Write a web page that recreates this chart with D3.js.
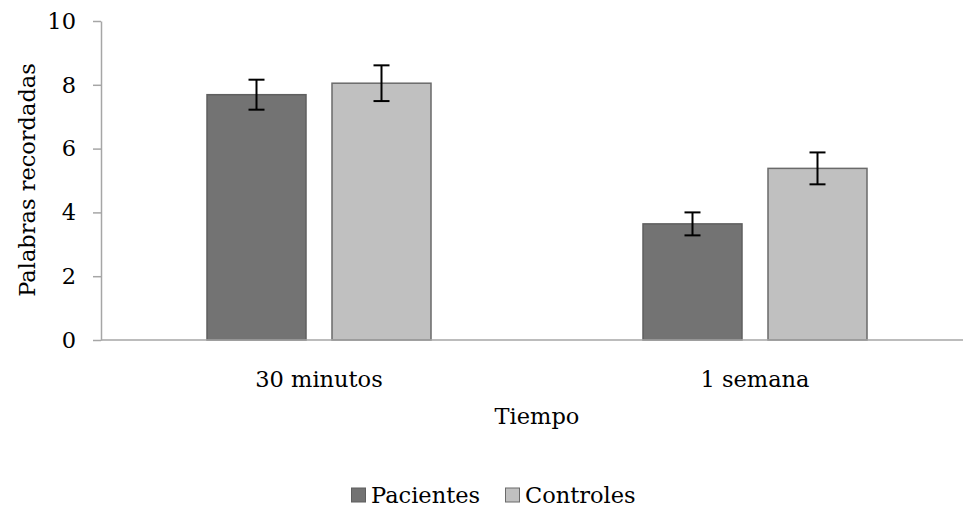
<!DOCTYPE html>
<html>
<head>
<meta charset="utf-8">
<script src="https://cdn.jsdelivr.net/npm/d3@7"></script>
<style>
  body { margin: 0; background: #fff; }
  text { font-family: "DejaVu Serif", serif; fill: #000; }
</style>
</head>
<body>
<div class="chart"></div>
<script>
// data
var categories = ["30 minutos", "1 semana"];
var series = ["Pacientes", "Controles"];
var pacientes = [7.69, 3.64];
var controles = [8.05, 5.38];
var pacientesErr = [0.47, 0.36];
var controlesErr = [0.56, 0.5];
var yTicks = [0, 2, 4, 6, 8, 10];

var colors = { Pacientes: "#737373", Controles: "#c0c0c0" };
var strokes = { Pacientes: "#5f5f5f", Controles: "#6a6a6a" };

var svgWidth = 963;
var svgHeight = 512;

var svg = d3.select(".chart")
  .append("svg")
  .attr("width", svgWidth)
  .attr("height", svgHeight);

var x0 = d3.scaleBand()
  .domain(categories)
  .range([101, 973])
  .paddingInner(0)
  .paddingOuter(0);

var x1 = d3.scaleBand()
  .domain(series)
  .range([-112, 112])
  .paddingInner(0.208)
  .paddingOuter(0);

var y = d3.scaleLinear()
  .domain([0, 10])
  .range([340, 21]);

var rows = [];
categories.forEach(function(c, i) {
  rows.push({ cat: c, s: "Pacientes", v: pacientes[i], e: pacientesErr[i] });
  rows.push({ cat: c, s: "Controles", v: controles[i], e: controlesErr[i] });
});

// bars
svg.selectAll("rect.bar")
  .data(rows)
  .enter()
  .append("rect")
  .attr("class", "bar")
  .attr("x", d => x0(d.cat) + x0.bandwidth() / 2 + x1(d.s))
  .attr("y", d => y(d.v))
  .attr("width", x1.bandwidth())
  .attr("height", d => y(0) - y(d.v))
  .attr("fill", d => colors[d.s])
  .attr("stroke", d => strokes[d.s])
  .attr("stroke-width", 1.5);

// y axis
var leftAxis = d3.axisLeft(y)
  .tickValues(yTicks)
  .tickSizeInner(8)
  .tickSizeOuter(0)
  .tickPadding(17);

var yg = svg.append("g")
  .attr("transform", "translate(101,0)")
  .call(leftAxis);
yg.select(".domain").attr("stroke", "#a6a6a6").attr("stroke-width", 1.5);
yg.selectAll(".tick line").attr("stroke", "#a6a6a6").attr("stroke-width", 1.5);
yg.selectAll(".tick text")
  .attr("font-family", "DejaVu Serif")
  .attr("font-size", 22.5)
  .attr("fill", "#000");

// x axis line + labels
svg.append("line")
  .attr("x1", 101).attr("x2", svgWidth)
  .attr("y1", y(0)).attr("y2", y(0))
  .attr("stroke", "#a6a6a6")
  .attr("stroke-width", 1.5);

svg.selectAll("text.cat")
  .data(categories)
  .enter()
  .append("text")
  .attr("class", "cat")
  .attr("x", d => x0(d) + x0.bandwidth() / 2)
  .attr("y", 387)
  .attr("text-anchor", "middle")
  .attr("font-size", 22.5)
  .text(d => d);

// error bars
var eb = svg.selectAll("g.err")
  .data(rows)
  .enter()
  .append("g")
  .attr("class", "err")
  .attr("transform", d => `translate(${x0(d.cat) + x0.bandwidth() / 2 + x1(d.s) + x1.bandwidth() / 2},0)`);

eb.append("line")
  .attr("x1", 0).attr("x2", 0)
  .attr("y1", d => y(d.v + d.e))
  .attr("y2", d => y(d.v - d.e))
  .attr("stroke", "#000").attr("stroke-width", 2);
eb.append("line")
  .attr("x1", -8).attr("x2", 8)
  .attr("y1", d => y(d.v + d.e)).attr("y2", d => y(d.v + d.e))
  .attr("stroke", "#000").attr("stroke-width", 2);
eb.append("line")
  .attr("x1", -8).attr("x2", 8)
  .attr("y1", d => y(d.v - d.e)).attr("y2", d => y(d.v - d.e))
  .attr("stroke", "#000").attr("stroke-width", 2);

// axis titles
svg.append("text")
  .attr("transform", "rotate(-90)")
  .attr("x", -180)
  .attr("y", 35)
  .attr("text-anchor", "middle")
  .attr("font-size", 22.5)
  .text("Palabras recordadas");

svg.append("text")
  .attr("x", 537)
  .attr("y", 424)
  .attr("text-anchor", "middle")
  .attr("font-size", 22.5)
  .text("Tiempo");

// legend
var legendX = [351, 505];
var legend = svg.selectAll("g.legend")
  .data(series)
  .enter()
  .append("g")
  .attr("class", "legend")
  .attr("transform", (d, i) => `translate(${legendX[i]},0)`);

legend.append("rect")
  .attr("x", 0.5)
  .attr("y", 488)
  .attr("width", 14)
  .attr("height", 14)
  .attr("fill", d => colors[d])
  .attr("stroke", d => strokes[d])
  .attr("stroke-width", 1);

legend.append("text")
  .attr("x", 20)
  .attr("y", 503)
  .attr("font-size", 22.5)
  .text(d => d);
</script>
</body>
</html>
